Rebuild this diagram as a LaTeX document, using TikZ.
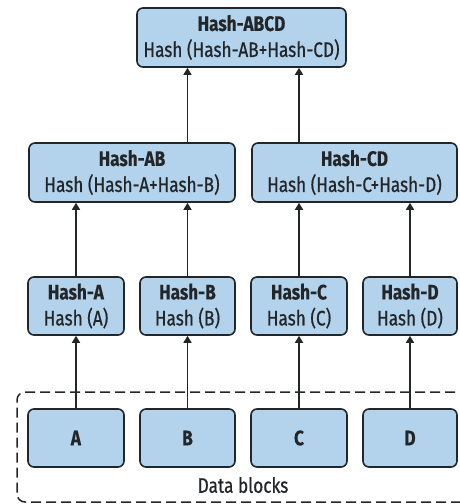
\documentclass[tikz,border=0pt]{standalone}
\usepackage{fontspec}
\setmainfont{Fira Sans}[FakeStretch=0.82, UprightFeatures={FakeBold=0.7}, BoldFeatures={FakeBold=0.3}]
\usetikzlibrary{arrows.meta}
\definecolor{blockfill}{HTML}{B3D2EB}
\definecolor{edge}{HTML}{232629}
\tikzset{
  hashbox/.style={draw=edge, fill=blockfill, line width=1.6pt, rounded corners=6pt,
    inner sep=0pt, align=center, text=edge,
    font=\fontsize{21}{26}\selectfont},
  link/.style={draw=edge, line width=1.4pt, -{Triangle[width=8pt,length=7pt]}},
  groupbox/.style={draw=edge, line width=1.5pt, dash pattern=on 10pt off 5pt, rounded corners=8pt},
}
\begin{document}
\begin{tikzpicture}[x=1pt,y=-1pt]
\useasboundingbox (0,0) rectangle (459,504);

% group frame around the data blocks
\draw[groupbox] (470,392) -- (17,392) -- (17,502) -- (470,502);
\node[font=\fontsize{21}{24}\selectfont, text=edge] (lbl) at (243,485) {Data blocks};

% root of the tree
\node[hashbox, minimum width=209pt, minimum height=59pt] (abcd) at (241.5,37.5)
  {\textbf{Hash-ABCD}\\Hash (Hash-AB+Hash-CD)};

% intermediate level
\node[hashbox, minimum width=206pt, minimum height=59pt] (ab) at (132,172.5)
  {\textbf{Hash-AB}\\Hash (Hash-A+Hash-B)};
\node[hashbox, minimum width=205pt, minimum height=59pt] (cd) at (354.5,172.5)
  {\textbf{Hash-CD}\\Hash (Hash-C+Hash-D)};

% leaf hashes
\node[hashbox, minimum width=96pt, minimum height=58pt] (ha) at (76,306)
  {\textbf{Hash-A}\\Hash (A)};
\node[hashbox, minimum width=95pt, minimum height=58pt] (hb) at (187.5,306)
  {\textbf{Hash-B}\\Hash (B)};
\node[hashbox, minimum width=96pt, minimum height=58pt] (hc) at (299,306)
  {\textbf{Hash-C}\\Hash (C)};
\node[hashbox, minimum width=94pt, minimum height=58pt] (hd) at (410,306)
  {\textbf{Hash-D}\\Hash (D)};

% data blocks
\node[hashbox, minimum width=96pt, minimum height=58pt] (da) at (76,438) {\textbf{A}};
\node[hashbox, minimum width=95pt, minimum height=58pt] (db) at (187.5,438) {\textbf{B}};
\node[hashbox, minimum width=96pt, minimum height=58pt] (dc) at (299,438) {\textbf{C}};
\node[hashbox, minimum width=94pt, minimum height=58pt] (dd) at (410,438) {\textbf{D}};

% data -> leaf hashes
\draw[link] (da.north) -- (ha.south);
\draw[link] (db.north) -- (hb.south);
\draw[link] (dc.north) -- (hc.south);
\draw[link] (dd.north) -- (hd.south);

% leaf hashes -> intermediate
\draw[link] (ha.north) -- (ha.north |- ab.south);
\draw[link] (hb.north) -- (hb.north |- ab.south);
\draw[link] (hc.north) -- (hc.north |- cd.south);
\draw[link] (hd.north) -- (hd.north |- cd.south);

% intermediate -> root
\draw[link] (hb.north |- ab.north) -- (hb.north |- abcd.south);
\draw[link] (hc.north |- cd.north) -- (hc.north |- abcd.south);
\end{tikzpicture}
\end{document}
